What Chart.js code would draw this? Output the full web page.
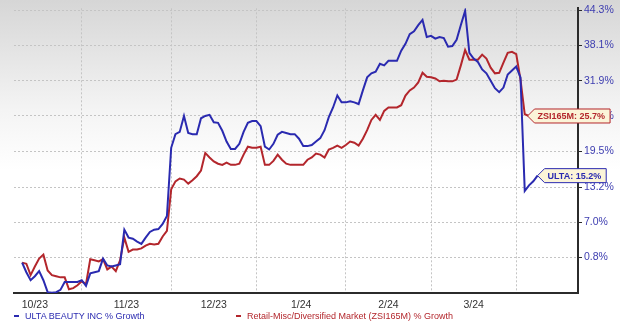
<!DOCTYPE html>
<html>
<head>
<meta charset="utf-8">
<script src="https://cdn.jsdelivr.net/npm/chart.js@4.4.1/dist/chart.umd.min.js"></script>
<style>
  html, body { margin:0; padding:0; }
  body { width:620px; height:323px; overflow:hidden; position:relative;
         background: linear-gradient(to bottom, #d6d6d6 0px, #f4f4f4 110px, #ffffff 170px, #ffffff 323px);
         font-family: "Liberation Sans", Arial, sans-serif; }
  #c { position:absolute; left:0; top:0; }
  .leg { position:absolute; top:310px; font-size:9px; white-space:nowrap; line-height:12px; }
  .leg i { display:inline-block; width:5px; height:2px; vertical-align:middle; margin-right:6px; position:relative; top:-1px; }
  #l1 { left:14px; color:#2a2ab0; }
  #l1 i { background:#2a2ab0; }
  #l2 { left:236px; color:#b3262c; }
  #l2 i { background:#b3262c; }
</style>
</head>
<body>
<canvas id="c" width="620" height="323"></canvas>
<div class="leg" id="l1"><i></i>ULTA BEAUTY INC % Growth</div>
<div class="leg" id="l2"><i></i>Retail-Misc/Diversified Market (ZSI165M) % Growth</div>
<script>
// ---- data (trading-day index 0 = mid Oct 2023 ... last = early Apr 2024) ----
const ultaGrowth = [
  -0.1,-1.8,-3.2,-2.5,-1.6,-3.2,-5.3,-5.4,-5.3,-4.9,
  -3.5,-3.5,-3.5,-3.5,-3.2,-4.2,-2.0,-1.8,-1.6,0.6,
  -0.6,-0.8,-0.6,-0.4,5.7,4.3,4.1,3.6,3.2,4.3,
  5.3,5.7,5.8,6.7,8.1,20.1,22.5,22.9,25.7,22.7,
  22.5,22.5,25.3,25.7,25.9,24.6,24.5,23.1,21.2,19.9,
  19.9,20.8,22.9,24.5,24.8,24.8,23.9,20.3,19.8,20.8,
  22.4,22.9,22.7,22.5,22.5,21.7,20.4,20.4,20.6,21.2,
  21.8,23.2,25.5,27.2,29.3,28.1,28.1,28.3,28.1,27.8,
  30.2,32.5,33.2,33.5,34.9,34.6,35.4,35.4,35.4,37.2,
  38.4,40.1,40.6,41.7,42.6,39.6,39.8,39.3,39.6,39.4,
  37.9,38.0,39.1,41.7,44.2,36.8,35.8,35.2,33.9,33.2,
  31.9,30.6,29.9,30.7,33.0,33.7,34.4,32.5,12.5,13.5,
  14.2,15.2
];
const sectorGrowth = [
  -0.1,-0.3,-2.3,-0.8,0.6,1.3,-1.5,-2.3,-2.5,-2.7,
  -2.7,-4.8,-4.6,-4.1,-3.4,-3.9,0.5,0.3,0.1,0.5,
  -1.3,-0.8,-1.6,0.3,4.3,1.8,2.2,2.2,2.4,2.9,
  3.2,3.1,3.2,4.5,5.5,12.8,14.2,14.7,14.5,13.8,
  14.4,15.1,16.1,19.2,18.4,17.7,17.3,17.1,17.5,17.1,
  17.1,17.3,18.9,20.3,20.1,20.1,20.3,17.1,17.1,17.8,
  18.9,18.0,17.3,17.1,17.1,17.1,17.1,18.0,18.4,19.1,
  18.9,18.4,19.8,20.1,20.5,20.1,20.6,21.2,21.0,20.5,
  21.7,23.2,25.0,25.9,25.0,26.6,27.2,27.2,27.2,27.6,
  29.3,30.2,30.7,31.6,33.3,32.6,32.5,32.3,31.8,31.9,
  31.8,31.8,32.1,34.6,37.3,35.6,35.6,35.6,36.5,35.8,
  34.2,33.2,33.3,35.1,36.8,37.0,36.6,32.1,26.0,25.7,
  25.7,25.7
];
const seriesNames = ["ULTA BEAUTY INC % Growth", "Retail-Misc/Diversified Market (ZSI165M) % Growth"];
const tagNames = ["ULTA", "ZSI165M"];
const monthLabels = ["10/23", "11/23", "12/23", "1/24", "2/24", "3/24"];
const monthStarts = [-8, 14, 35, 55, 76, 96, 116];   // trading-day index of first day of each month
const yTickValues = [0.8, 7.0, 13.2, 19.5, 25.7, 31.9, 38.1, 44.3];
const yTickLabels = ["0.8%", "7.0%", "13.2%", "19.5%", "25.7%", "31.9%", "38.1%", "44.3%"];

// ---- derived ----
const boundarySet = new Set(monthStarts.slice(1));
const labelAt = {};
for (let k = 0; k < monthLabels.length; k++) {
  labelAt[(monthStarts[k] + monthStarts[k + 1]) / 2] = monthLabels[k];
}
const xTickValues = [...monthStarts.slice(1), ...Object.keys(labelAt).map(Number)].sort((a, b) => a - b);
const yLabelMap = {};
yTickValues.forEach((v, i) => yLabelMap[v] = yTickLabels[i]);

const BLUE = '#2a2ab0', RED = '#b3262c';
const FONT = '"Liberation Sans", Arial, sans-serif';

const tagPlugin = {
  id: 'endTags',
  afterDraw(chart) {
    const ctx = chart.ctx;
    const xs = chart.scales.x, ys = chart.scales.y;
    const defs = [
      { ds: 1, color: RED, tipShift: -10 },
      { ds: 0, color: BLUE, tipShift: 0 }
    ];
    defs.forEach(d => {
      const data = chart.data.datasets[d.ds].data;
      const last = data[data.length - 1];
      const x0 = xs.getPixelForValue(last.x) + d.tipShift;
      const y0 = ys.getPixelForValue(last.y);
      const text = tagNames[d.ds] + ': ' + last.y.toFixed(1) + '%';
      ctx.save();
      ctx.font = 'bold 9px ' + FONT;
      const tw = ctx.measureText(text).width;
      const h = 7, arrow = 7;
      const x1 = x0 + arrow, x2 = x0 + arrow + 3 + tw + 5;
      ctx.beginPath();
      ctx.moveTo(x0, y0);
      ctx.lineTo(x1, y0 - h);
      ctx.lineTo(x2, y0 - h);
      ctx.lineTo(x2, y0 + h);
      ctx.lineTo(x1, y0 + h);
      ctx.closePath();
      ctx.fillStyle = '#fbf4d8';
      ctx.fill();
      ctx.lineWidth = 1;
      ctx.strokeStyle = d.color;
      ctx.stroke();
      ctx.fillStyle = d.color;
      ctx.textBaseline = 'middle';
      ctx.textAlign = 'left';
      ctx.fillText(text, x1 + 3, y0 + 0.5);
      ctx.restore();
    });
  }
};

new Chart(document.getElementById('c'), {
  type: 'line',
  data: {
    datasets: [
      { label: seriesNames[0], data: ultaGrowth.map((v, i) => ({ x: i, y: v })),
        borderColor: BLUE, borderWidth: 2, pointRadius: 0, tension: 0, fill: false },
      { label: seriesNames[1], data: sectorGrowth.map((v, i) => ({ x: i, y: v })),
        borderColor: RED, borderWidth: 2, pointRadius: 0, tension: 0, fill: false }
    ]
  },
  options: {
    responsive: false,
    animation: false,
    devicePixelRatio: 1,
    layout: { padding: { left: 14, top: 5, right: 0, bottom: 0 } },
    plugins: { legend: { display: false }, tooltip: { enabled: false } },
    scales: {
      x: {
        type: 'linear',
        min: -1.9, max: 130.5,
        afterBuildTicks: s => { s.ticks = xTickValues.map(v => ({ value: v })); },
        afterFit: s => { s.height = 30; },
        ticks: {
          autoSkip: false, maxRotation: 0, padding: 6,
          color: '#333', font: { family: FONT, size: 10.5 },
          callback: v => labelAt[v] !== undefined ? labelAt[v] : ''
        },
        grid: {
          drawTicks: false,
          color: c => (c.tick && boundarySet.has(c.tick.value)) ? '#c4c4c4' : 'rgba(0,0,0,0)',
          lineWidth: 1
        },
        border: { display: true, color: '#2b2b2b', width: 2, dash: [2, 2] }
      },
      y: {
        type: 'linear',
        position: 'right',
        min: -5.45, max: 44.65,
        afterBuildTicks: s => { s.ticks = yTickValues.map(v => ({ value: v })); },
        afterFit: s => { s.width = 42; },
        ticks: {
          autoSkip: false, padding: 2,
          color: '#3d3db0', font: { family: FONT, size: 10.5 },
          callback: v => yLabelMap[v]
        },
        grid: {
          drawTicks: true, tickLength: 4, tickColor: '#2b2b2b', tickBorderDash: [],
          color: '#c4c4c4', lineWidth: 1
        },
        border: { display: true, color: '#2b2b2b', width: 2, dash: [2, 2] }
      }
    }
  },
  plugins: [tagPlugin]
});
</script>
</body>
</html>
